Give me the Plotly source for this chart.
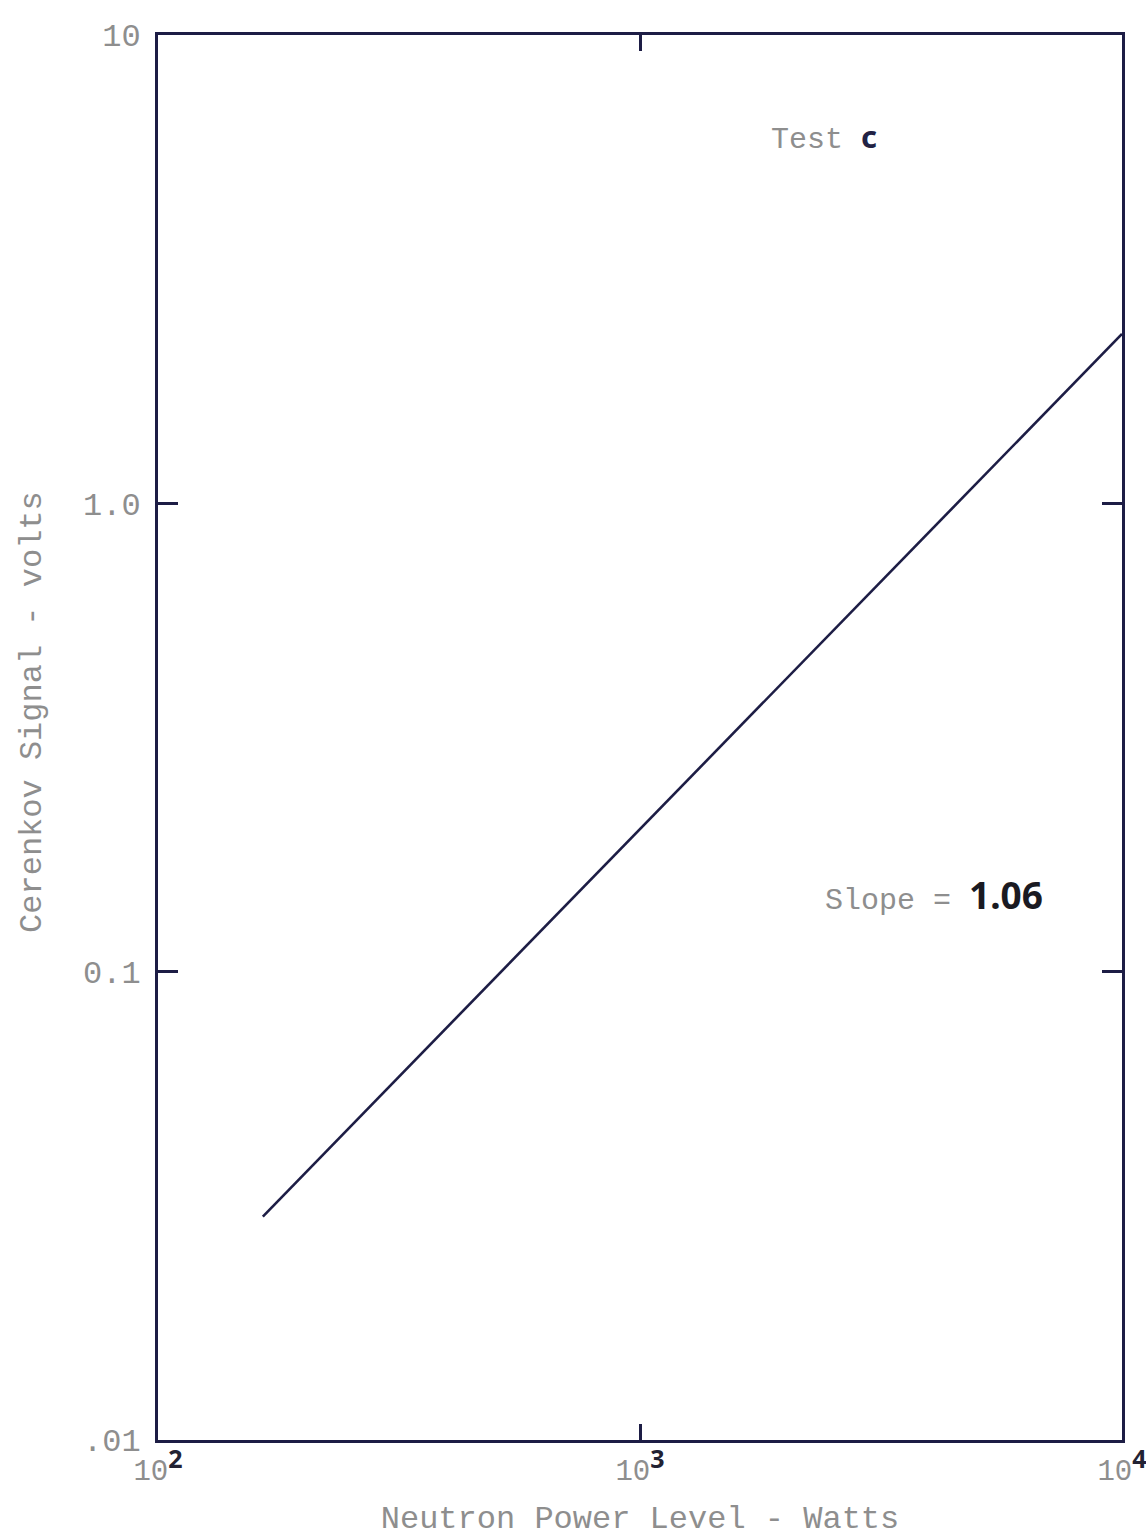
import plotly.graph_objects as go

# Fitted line: Cerenkov signal vs neutron power (log-log)
power_watts = [165, 10000]
signal_volts = [0.03, 2.3]

x_tick_vals = [100, 1000, 10000]
x_tick_exps = ["2", "3", "4"]
y_tick_vals = [0.01, 0.1, 1.0, 10]
y_tick_text = [".01", "0.1", "1.0", "10"]

INK = "#1d1d45"
GRAY = "#8e8e8e"
MONO = "Liberation Mono, Courier New, monospace"
SANS = "Noto Sans, DejaVu Sans, sans-serif"

x_tick_text = [
    f'10<sup><span style="font-family:{SANS};color:#222233;font-weight:bold;font-size:25px">{e}</span></sup>'
    for e in x_tick_exps
]

fig = go.Figure()
fig.add_trace(go.Scatter(
    x=power_watts, y=signal_volts, mode="lines",
    line=dict(color=INK, width=2.6), showlegend=False,
))

axis_common = dict(
    type="log", showgrid=False, zeroline=False, automargin=False,
    showline=True, linecolor=INK, linewidth=3, mirror="ticks",
    ticks="inside", tickcolor=INK, tickwidth=3,
    ticklabeloverflow="allow",
)

fig.update_xaxes(
    range=[2, 4], tickvals=x_tick_vals, ticktext=x_tick_text, ticklen=16,
    ticklabelstandoff=2,
    tickfont=dict(family=MONO, size=29, color=GRAY),
    title=dict(text="Neutron Power Level - Watts",
               font=dict(family=MONO, size=32, color=GRAY), standoff=38),
    **axis_common,
)
fig.update_yaxes(
    range=[-2, 1], tickvals=y_tick_vals, ticktext=y_tick_text, ticklen=20,
    ticklabelstandoff=8,
    tickfont=dict(family=MONO, size=32, color=GRAY),
    **axis_common,
)

# y-axis title placed as a rotated annotation
fig.add_annotation(
    x=-0.131, y=0.518, xref="paper", yref="paper", showarrow=False,
    xanchor="center", yanchor="middle",
    text="Cerenkov Signal - volts", textangle=-90,
    font=dict(family=MONO, size=32, color=GRAY),
)
fig.add_annotation(
    x=0.634, y=0.928, xref="paper", yref="paper", showarrow=False,
    xanchor="left", yanchor="middle",
    text=f'Test <span style="font-family:{SANS};color:#222244;font-weight:bold;font-size:31px">c</span>',
    font=dict(family=MONO, size=30, color=GRAY),
)
fig.add_annotation(
    x=0.69, y=0.388, xref="paper", yref="paper", showarrow=False,
    xanchor="left", yanchor="middle",
    text=f'Slope = <span style="font-family:{SANS};color:#1a1a22;font-weight:bold;font-size:37px">1.06</span>',
    font=dict(family=MONO, size=30, color=GRAY),
)

fig.update_layout(
    width=1146, height=1538,
    margin=dict(l=158, r=24, t=35, b=98),
    paper_bgcolor="white", plot_bgcolor="white",
)

fig.write_html("out.html")
